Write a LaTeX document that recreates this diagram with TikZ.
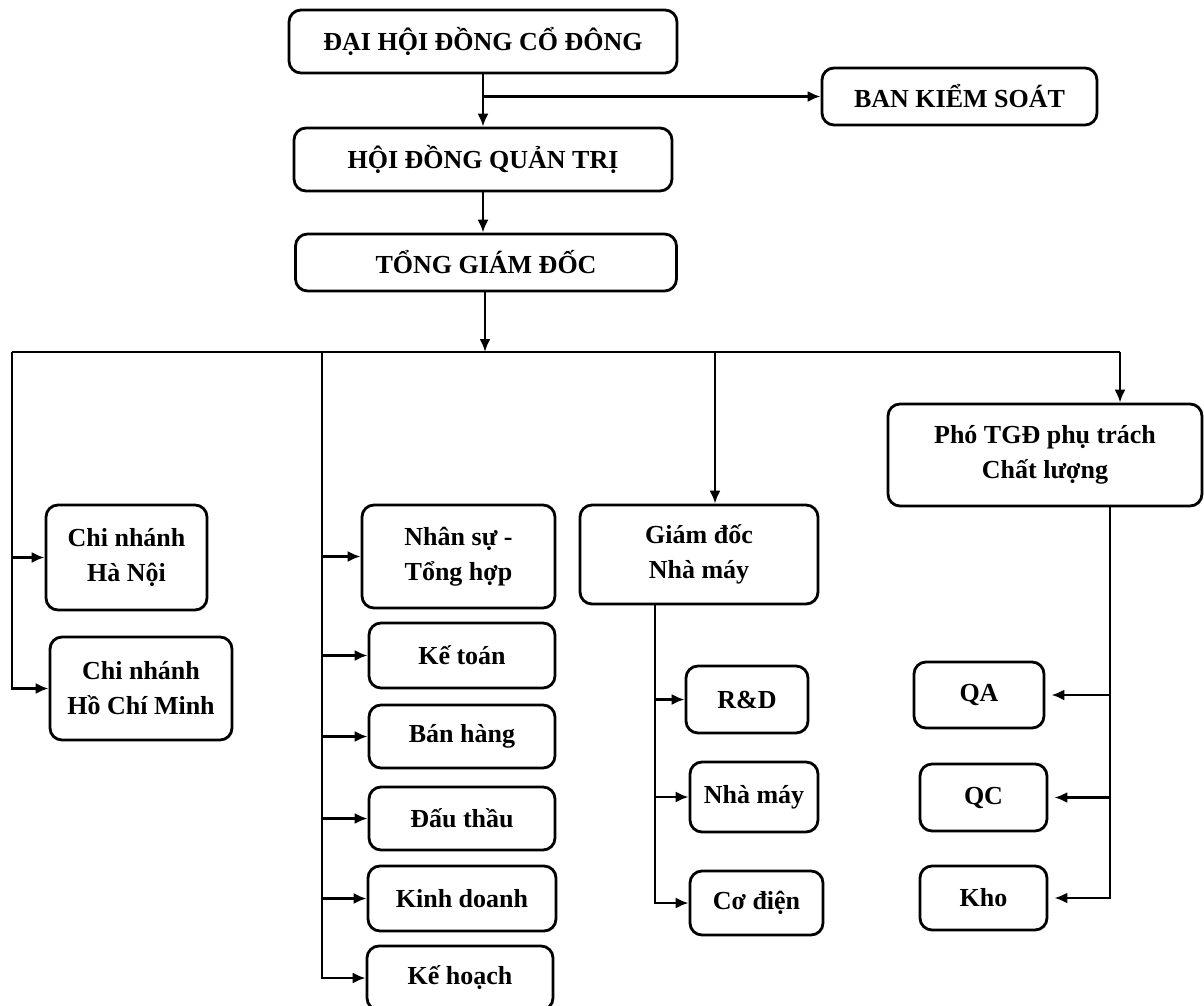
\documentclass[tikz,border=0pt]{standalone}
\usepackage{fontspec}
\setmainfont{Liberation Serif}
\usetikzlibrary{positioning}
\usetikzlibrary{arrows.meta}
\tikzset{box/.style = {draw, rounded corners = 6pt, line width = 1.4pt, align = center, inner sep = 0,
                       font = \fontsize{13}{17.5}\selectfont\bfseries}}
\tikzset{arr/.style = {line width = 1.2pt, -{Latex[length = 6.5pt, width = 5.5pt]}}}

\begin{document}
\begin{tikzpicture}[x = 0.5pt, y = -0.5pt]
    \useasboundingbox (0,0) rectangle (1204,1006);
    % top of the chart
    \node[box, minimum width = 194pt, minimum height = 31.5pt] (dhd) at (483,41.5) {ĐẠI HỘI ĐỒNG CỔ ĐÔNG};
    \node[box, minimum width = 137.5pt, minimum height = 28.5pt] (bks) at (959.5,96.5) {BAN KIỂM SOÁT};
    \node[box, minimum width = 189pt, minimum height = 31.5pt] (hdqt) at (483,159.5) {HỘI ĐỒNG QUẢN TRỊ};
    \node[box, minimum width = 190.5pt, minimum height = 28.5pt] (tgd) at (486,262.5) {TỔNG GIÁM ĐỐC};
    % second level
    \node[box, minimum width = 80.5pt, minimum height = 52.5pt] (cnhn) at (126.5,557.5) {Chi nhánh\\Hà Nội};
    \node[box, minimum width = 91pt, minimum height = 51.5pt] (cnhcm) at (141,688.5) {Chi nhánh\\Hồ Chí Minh};
    \node[box, minimum width = 96.5pt, minimum height = 51.5pt] (nsth) at (458.5,556.5) {Nhân sự -\\Tổng hợp};
    \node[box, minimum width = 93pt, minimum height = 32.5pt] (ketoan) at (462,655.5) {Kế toán};
    \node[box, minimum width = 93pt, minimum height = 31.5pt] (banhang) at (462,736.5) {Bán hàng};
    \node[box, minimum width = 93pt, minimum height = 31.5pt] (dauthau) at (462,818.5) {Đấu thầu};
    \node[box, minimum width = 94pt, minimum height = 32.5pt] (kinhdoanh) at (462,898.5) {Kinh doanh};
    \node[box, minimum width = 93pt, minimum height = 32pt] (kehoach) at (460,978) {Kế hoạch};
    \node[box, minimum width = 119pt, minimum height = 49.5pt] (gdnm) at (699,554.5) {Giám đốc\\Nhà máy};
    \node[box, minimum width = 157pt, minimum height = 51pt] (ptgd) at (1045,455) {Phó TGĐ phụ trách\\Chất lượng};
    % third level
    \node[box, minimum width = 61pt, minimum height = 33.5pt] (rd) at (747,699.5) {R\&D};
    \node[box, minimum width = 64pt, minimum height = 35pt] (nm) at (754,797) {Nhà máy};
    \node[box, minimum width = 66.5pt, minimum height = 32pt] (cd) at (756.5,903) {Cơ điện};
    \node[box, minimum width = 65pt, minimum height = 33pt] (qa) at (979,695) {QA};
    \node[box, minimum width = 63.5pt, minimum height = 33.5pt] (qc) at (983.5,797.5) {QC};
    \node[box, minimum width = 63.5pt, minimum height = 32pt] (kho) at (983.5,898) {Kho};
    % bus and branch points
    \coordinate (busL) at (12,352);
    \coordinate (busM) at (322,352);
    \coordinate (busC) at (485,352);
    \coordinate (busG) at (715,352);
    \coordinate (busR) at (1120,352);
    \coordinate (gdx) at (655,604);
    \coordinate (ptx) at (1110,506);
    % connectors
    \draw[arr] (dhd.south) -- (hdqt.north);
    \draw[arr] (dhd.south |- bks.west) -- (bks.west);
    \draw[arr] (hdqt.south) -- (hdqt.south |- tgd.north);
    \draw[arr] (tgd.south -| busC) -- (busC);
    \draw[line width = 1.2pt] (busL) -- (busR);
    \foreach \n in {cnhn, cnhcm} {
        \draw[arr] (busL) |- (\n.west);
    }
    \foreach \n in {nsth, ketoan, banhang, dauthau, kinhdoanh, kehoach} {
        \draw[arr] (busM) |- (\n.west);
    }
    \draw[arr] (busG) -- (busG |- gdnm.north);
    \draw[arr] (busR) -- (busR |- ptgd.north);
    \foreach \n in {rd, nm, cd} {
        \draw[arr] (gdx) |- (\n.west);
    }
    \foreach \n in {qa, qc, kho} {
        \draw[arr] (ptx) |- ([xshift = 3pt]\n.east);
    }
\end{tikzpicture}
\end{document}
